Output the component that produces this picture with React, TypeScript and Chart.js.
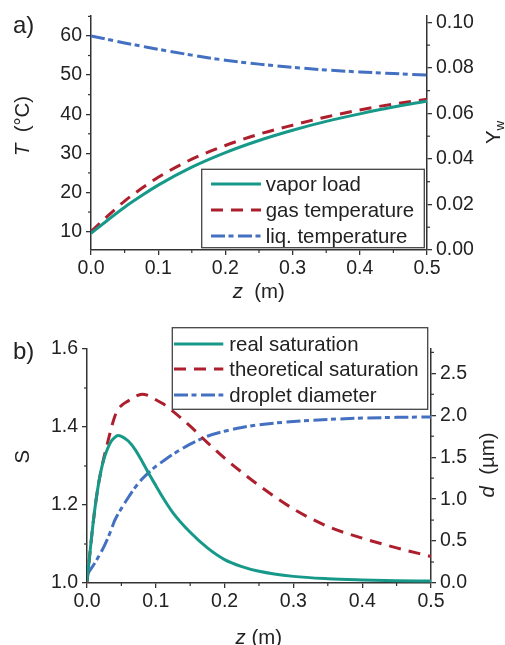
import React, { useEffect, useRef } from "react";
import { Chart, registerables } from "chart.js";
Chart.register(...registerables);

const FONT = '"Liberation Sans", Arial, sans-serif';
const TEXT = "#222222";
const AXIS = "#333333";
const GREEN = "#17998a";
const RED = "#ad1f2d";
const BLUE = "#4470c2";

// ---- panel a) ----
const zA = [0, 0.025, 0.05, 0.075, 0.1, 0.15, 0.2, 0.25, 0.3, 0.35, 0.4, 0.45, 0.5];
const vaporLoad = [0.0073, 0.0132, 0.0188, 0.0238, 0.0285, 0.0364, 0.0428, 0.0481, 0.0526, 0.0565, 0.0598, 0.0628, 0.0654];
const gasTemp = [10.0, 14.0, 17.8, 21.0, 23.9, 28.5, 32.0, 34.9, 37.2, 39.3, 41.1, 42.6, 43.8];
const liqTemp = [60.0, 59.1, 58.2, 57.4, 56.6, 55.1, 53.8, 52.8, 52.0, 51.3, 50.8, 50.4, 50.0];
const legendA = ["vapor load", "gas temperature", "liq. temperature"];

// ---- panel b) ----
const zB = [0, 0.005, 0.01, 0.015, 0.02, 0.025, 0.03, 0.035, 0.04, 0.045, 0.05, 0.06, 0.07, 0.08, 0.09, 0.1, 0.11, 0.125, 0.15, 0.175, 0.2, 0.225, 0.25, 0.3, 0.35, 0.4, 0.45, 0.5];
const realSat = [1.003, 1.09, 1.17, 1.235, 1.285, 1.32, 1.345, 1.363, 1.373, 1.378, 1.376, 1.364, 1.342, 1.312, 1.28, 1.25, 1.22, 1.18, 1.13, 1.09, 1.06, 1.042, 1.03, 1.017, 1.011, 1.008, 1.006, 1.005];
const theoSat = [1.0, 1.09, 1.17, 1.235, 1.285, 1.325, 1.36, 1.395, 1.425, 1.445, 1.455, 1.467, 1.478, 1.484, 1.48, 1.47, 1.46, 1.44, 1.402, 1.36, 1.32, 1.284, 1.25, 1.19, 1.145, 1.115, 1.09, 1.068];
const dropDiam = [0.1, 0.16, 0.22, 0.29, 0.36, 0.44, 0.53, 0.63, 0.74, 0.82, 0.89, 1.02, 1.14, 1.24, 1.32, 1.39, 1.45, 1.535, 1.655, 1.75, 1.81, 1.855, 1.886, 1.926, 1.95, 1.966, 1.975, 1.98];
const legendB = ["real saturation", "theoretical saturation", "droplet diameter"];

const DASH_RED = [12, 8];
const DASH_BLUE = [14, 3.5, 5, 4.5];

type Run = { text: string; italic?: boolean; size?: number; dy?: number };
type Title = { x: number; y: number; rot: boolean; baseline: CanvasTextBaseline; runs: Run[] };
type Spec = {
  minors: { id: string; step: number; major: number }[];
  titles: Title[];
  label: { text: string; x: number; y: number };
  legend: { x0: number; y0: number; x1: number; y1: number; lx0: number; lx1: number; tx: number; rows: number[]; labels: string[] };
};

function fontOf(r: Run) {
  return `${r.italic ? "italic " : ""}${r.size ?? 20.4}px ${FONT}`;
}

function makeDeco(spec: Spec) {
  return {
    id: "deco",
    afterDraw(chart: any) {
      const ctx: CanvasRenderingContext2D = chart.ctx;
      const ca = chart.chartArea;
      ctx.save();
      // minor ticks
      ctx.strokeStyle = AXIS;
      ctx.lineWidth = 1.2;
      for (const m of spec.minors) {
        const s = chart.scales[m.id];
        const start = Math.ceil(s.min / m.step - 1e-9) * m.step;
        for (let i = 0; ; i++) {
          const v = start + i * m.step;
          if (v > s.max + 1e-9) break;
          const r = v / m.major;
          if (Math.abs(r - Math.round(r)) < 1e-6) continue;
          const p = s.getPixelForValue(v);
          ctx.beginPath();
          if (s.position === "left") {
            ctx.moveTo(ca.left - 3, p);
            ctx.lineTo(ca.left, p);
          } else if (s.position === "right") {
            ctx.moveTo(ca.right, p);
            ctx.lineTo(ca.right + 3, p);
          } else {
            ctx.moveTo(p, ca.bottom);
            ctx.lineTo(p, ca.bottom + 3);
          }
          ctx.stroke();
        }
      }
      // legend
      const L = spec.legend;
      ctx.fillStyle = "#ffffff";
      ctx.fillRect(L.x0, L.y0, L.x1 - L.x0, L.y1 - L.y0);
      ctx.strokeStyle = "#444444";
      ctx.lineWidth = 1.3;
      ctx.strokeRect(L.x0, L.y0, L.x1 - L.x0, L.y1 - L.y0);
      chart.data.datasets.forEach((ds: any, i: number) => {
        const y = L.rows[i];
        ctx.save();
        ctx.strokeStyle = ds.borderColor;
        ctx.lineWidth = 3;
        ctx.lineCap = "butt";
        ctx.setLineDash(ds.borderDash || []);
        ctx.beginPath();
        ctx.moveTo(L.lx0, y);
        ctx.lineTo(L.lx1, y);
        ctx.stroke();
        ctx.restore();
        ctx.fillStyle = TEXT;
        ctx.font = `20.4px ${FONT}`;
        ctx.textBaseline = "middle";
        ctx.textAlign = "left";
        ctx.fillText(L.labels[i], L.tx, y + 1);
      });
      // titles
      ctx.fillStyle = TEXT;
      ctx.textAlign = "left";
      for (const t of spec.titles) {
        ctx.save();
        ctx.translate(t.x, t.y);
        if (t.rot) ctx.rotate(-Math.PI / 2);
        ctx.textBaseline = t.baseline;
        let total = 0;
        for (const r of t.runs) {
          ctx.font = fontOf(r);
          total += ctx.measureText(r.text).width;
        }
        let x = -total / 2;
        for (const r of t.runs) {
          ctx.font = fontOf(r);
          ctx.fillText(r.text, x, r.dy ?? 0);
          x += ctx.measureText(r.text).width;
        }
        ctx.restore();
      }
      // panel label
      ctx.font = `24px ${FONT}`;
      ctx.textBaseline = "alphabetic";
      ctx.fillText(spec.label.text, spec.label.x, spec.label.y);
      ctx.restore();
    },
  };
}

function pts(xs: number[], ys: number[]) {
  return xs.map((x, i) => ({ x, y: ys[i] }));
}

function axis(extra: any) {
  return {
    type: "linear",
    grid: { display: true, drawOnChartArea: false, drawTicks: true, tickLength: 5, color: AXIS, lineWidth: 1.3 },
    border: { display: true, color: AXIS, width: 1.5 },
    ...extra,
    ticks: {
      color: TEXT,
      font: { family: FONT, size: 19.5 },
      autoSkip: false,
      maxRotation: 0,
      includeBounds: false,
      ...extra.ticks,
    },
  };
}

function lineDs(label: string, data: any[], color: string, dash: number[], yAxisID: string) {
  return {
    label,
    data,
    borderColor: color,
    backgroundColor: color,
    borderWidth: 3,
    borderDash: dash,
    borderCapStyle: "butt",
    pointRadius: 0,
    cubicInterpolationMode: "monotone",
    fill: false,
    yAxisID,
  };
}

function configA(): any {
  const spec: Spec = {
    minors: [
      { id: "x", step: 0.05, major: 0.1 },
      { id: "y", step: 5, major: 10 },
      { id: "y2", step: 0.01, major: 0.02 },
    ],
    titles: [
      { x: 23, y: 126, rot: true, baseline: "middle", runs: [{ text: "T", italic: true }, { text: "  (°C)" }] },
      { x: 499.5, y: 132.4, rot: true, baseline: "alphabetic", runs: [{ text: "Y" }, { text: "w", size: 13.5, dy: 4 }] },
      { x: 258.8, y: 292, rot: false, baseline: "middle", runs: [{ text: "z", italic: true }, { text: "  (m)" }] },
    ],
    label: { text: "a)", x: 13, y: 33.3 },
    legend: { x0: 201.7, y0: 169.3, x1: 424.3, y1: 247.7, lx0: 211, lx1: 261, tx: 265.7, rows: [184, 210, 236], labels: legendA },
  };
  return {
    type: "line",
    data: {
      datasets: [
        lineDs(legendA[0], pts(zA, vaporLoad), GREEN, [], "y2"),
        lineDs(legendA[1], pts(zA, gasTemp), RED, DASH_RED, "y"),
        lineDs(legendA[2], pts(zA, liqTemp), BLUE, DASH_BLUE, "y"),
      ],
    },
    options: {
      responsive: false,
      animation: false,
      layout: { padding: { top: 16, left: 0, right: 0, bottom: 0 } },
      plugins: { legend: { display: false }, tooltip: { enabled: false } },
      scales: {
        x: axis({
          position: "bottom",
          min: 0,
          max: 0.5,
          afterFit: (s: any) => { s.height = 70; },
          ticks: { stepSize: 0.1, padding: 2, callback: (v: any) => Number(v).toFixed(1) },
        }),
        y: axis({
          position: "left",
          min: 5.3,
          max: 65.1,
          afterFit: (s: any) => { s.width = 91; },
          ticks: { stepSize: 10, padding: 4, callback: (v: any) => String(Math.round(Number(v))) },
        }),
        y2: axis({
          position: "right",
          min: 0,
          max: 0.1028,
          afterFit: (s: any) => { s.width = 78; },
          ticks: { stepSize: 0.02, padding: 4, callback: (v: any) => Number(v).toFixed(2) },
        }),
      },
    },
    plugins: [makeDeco(spec)],
  };
}

function configB(): any {
  const spec: Spec = {
    minors: [
      { id: "x", step: 0.05, major: 0.1 },
      { id: "y", step: 0.1, major: 0.2 },
      { id: "y2", step: 0.25, major: 0.5 },
    ],
    titles: [
      { x: 23, y: 136.7, rot: true, baseline: "middle", runs: [{ text: "S" }] },
      { x: 488.5, y: 145, rot: true, baseline: "middle", runs: [{ text: "d", italic: true }, { text: "  (µm)" }] },
      { x: 258.8, y: 318, rot: false, baseline: "middle", runs: [{ text: "z", italic: true }, { text: " (m)" }] },
    ],
    label: { text: "b)", x: 13, y: 39 },
    legend: { x0: 172.3, y0: 7.7, x1: 427.7, y1: 89.3, lx0: 174, lx1: 223.3, tx: 229.3, rows: [24, 49, 75], labels: legendB },
  };
  return {
    type: "line",
    data: {
      datasets: [
        lineDs(legendB[0], pts(zB, realSat), GREEN, [], "y"),
        lineDs(legendB[1], pts(zB, theoSat), RED, DASH_RED, "y"),
        lineDs(legendB[2], pts(zB, dropDiam), BLUE, DASH_BLUE, "y2"),
      ],
    },
    options: {
      responsive: false,
      animation: false,
      layout: { padding: { top: 29, left: 0, right: 0, bottom: 0 } },
      plugins: { legend: { display: false }, tooltip: { enabled: false } },
      scales: {
        x: axis({
          position: "bottom",
          min: 0,
          max: 0.5,
          afterFit: (s: any) => { s.height = 62; },
          ticks: { stepSize: 0.1, padding: 2, callback: (v: any) => Number(v).toFixed(1) },
        }),
        y: axis({
          position: "left",
          min: 1.0,
          max: 1.6,
          afterFit: (s: any) => { s.width = 87; },
          ticks: { stepSize: 0.2, padding: 4, callback: (v: any) => Number(v).toFixed(1) },
        }),
        y2: axis({
          position: "right",
          min: 0,
          max: 2.79,
          afterFit: (s: any) => { s.width = 74; },
          ticks: { stepSize: 0.5, padding: 4, callback: (v: any) => Number(v).toFixed(1) },
        }),
      },
    },
    plugins: [makeDeco(spec)],
  };
}

export default function App() {
  const refA = useRef<HTMLCanvasElement>(null);
  const refB = useRef<HTMLCanvasElement>(null);
  useEffect(() => {
    const a = new Chart(refA.current as HTMLCanvasElement, configA());
    const b = new Chart(refB.current as HTMLCanvasElement, configB());
    return () => {
      a.destroy();
      b.destroy();
    };
  }, []);
  return (
    <div style={{ position: "absolute", left: 0, top: 0, width: 505, height: 645, background: "#ffffff", overflow: "hidden" }}>
      <canvas ref={refA} width={505} height={320} style={{ display: "block", width: 505, height: 320 }} />
      <canvas ref={refB} width={505} height={325} style={{ display: "block", width: 505, height: 325 }} />
    </div>
  );
}
